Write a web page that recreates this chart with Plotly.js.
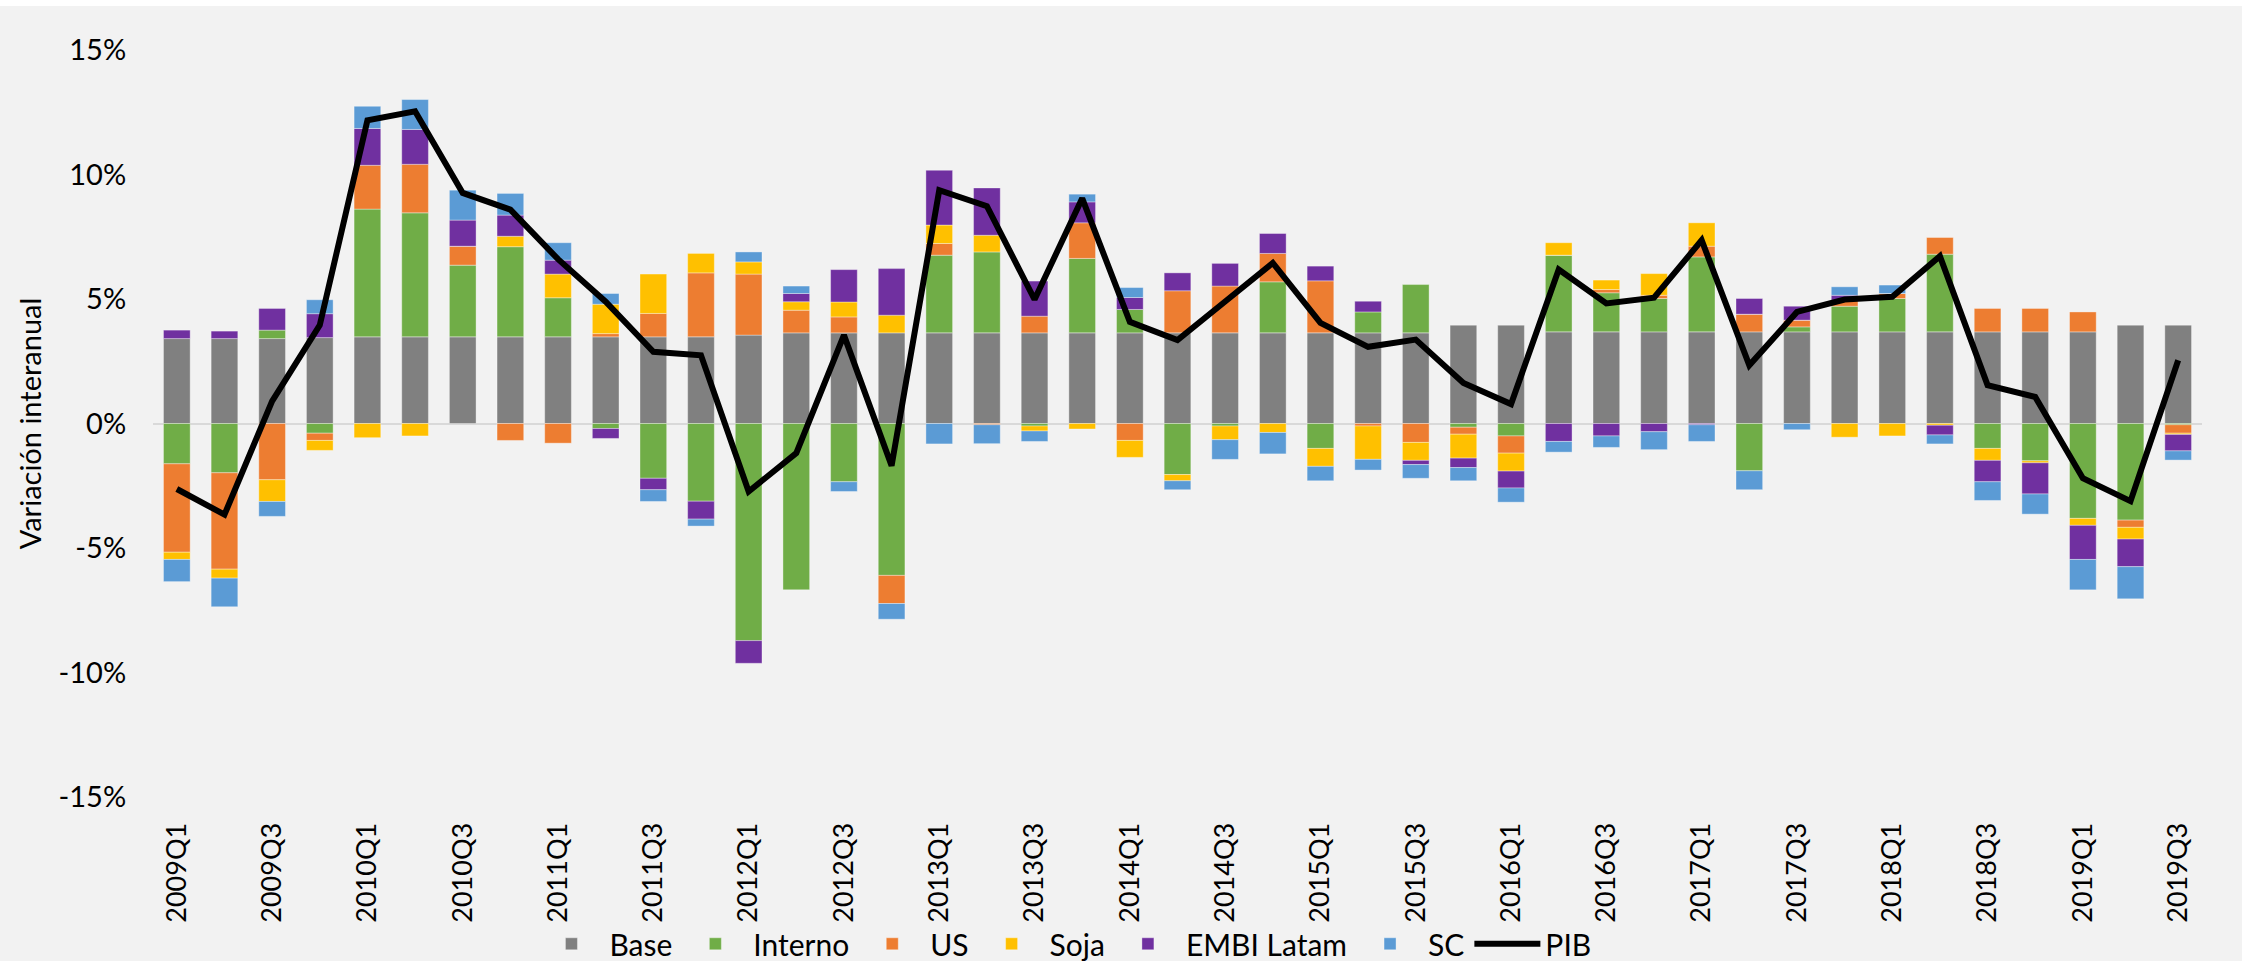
<!DOCTYPE html>
<html><head><meta charset="utf-8">
<script src="https://cdn.plot.ly/plotly-3.0.1.min.js"></script>
<style>html,body{margin:0;padding:0;background:#fff;} #chart{width:2242px;height:955px;margin-top:6px;}</style>
</head><body><div id="chart"></div>
<script>
const quarters = ['2009Q1','2009Q2','2009Q3','2009Q4','2010Q1','2010Q2','2010Q3','2010Q4',
  '2011Q1','2011Q2','2011Q3','2011Q4','2012Q1','2012Q2','2012Q3','2012Q4',
  '2013Q1','2013Q2','2013Q3','2013Q4','2014Q1','2014Q2','2014Q3','2014Q4',
  '2015Q1','2015Q2','2015Q3','2015Q4','2016Q1','2016Q2','2016Q3','2016Q4',
  '2017Q1','2017Q2','2017Q3','2017Q4','2018Q1','2018Q2','2018Q3','2018Q4',
  '2019Q1','2019Q2','2019Q3'];
const base = [3.41,3.41,3.41,3.45,3.48,3.48,3.48,3.48,3.48,3.48,3.48,3.48,3.55,3.64,3.64,3.64,
  3.64,3.64,3.64,3.64,3.64,3.64,3.64,3.64,3.64,3.64,3.64,3.95,3.95,3.68,3.68,3.68,
  3.68,3.68,3.68,3.68,3.68,3.68,3.68,3.68,3.68,3.95,3.95];
const interno = [-1.62,-1.98,0.34,-0.39,5.13,4.98,2.88,3.62,1.57,-0.2,-2.2,-3.12,-8.72,-6.68,-2.34,-6.1,
  3.12,3.25,-0.1,2.99,0.94,-2.05,-0.1,2.05,-1.0,0.84,1.94,-0.15,-0.5,3.08,1.57,1.34,
  3.01,-1.9,0.2,1.03,1.34,3.12,-1.0,-1.5,-3.81,-3.88,-0.05];
const us = [-3.55,-3.87,-2.26,-0.29,1.76,1.95,0.76,-0.68,-0.79,0.13,0.94,2.57,2.45,0.91,0.64,-1.13,
  0.47,-0.05,0.67,1.43,-0.68,1.69,1.88,1.14,2.09,-0.1,-0.76,-0.28,-0.69,0,0.13,0.13,
  0.43,0.71,0.27,0.24,0.2,0.67,0.94,0.94,0.8,-0.29,-0.34];
const soja = [-0.29,-0.36,-0.87,-0.4,-0.57,-0.5,0,0.42,0.95,1.18,1.58,0.78,0.49,0.34,0.6,0.71,
  0.74,0.67,-0.2,-0.22,-0.68,-0.25,-0.55,-0.36,-0.72,-1.34,-0.72,-0.96,-0.72,0.5,0.38,0.87,
  0.94,0,0,-0.55,-0.5,-0.07,-0.48,-0.08,-0.28,-0.47,-0.05];
const embi = [0.34,0.30,0.87,0.96,1.48,1.4,1.05,0.85,0.56,-0.4,-0.46,-0.72,-0.91,0.33,1.3,1.87,
  2.2,1.9,1.41,0.84,0.48,0.72,0.91,0.8,0.59,0.43,-0.17,-0.38,-0.68,-0.72,-0.5,-0.33,
  -0.05,0.63,0.56,0.2,0,-0.39,-0.86,-1.25,-1.37,-1.11,-0.66];
const sc = [-0.89,-1.15,-0.6,0.56,0.89,1.2,1.2,0.87,0.7,0.43,-0.47,-0.28,0.4,0.3,-0.39,-0.63,
  -0.82,-0.76,-0.42,0.31,0.4,-0.36,-0.79,-0.86,-0.58,-0.43,-0.55,-0.53,-0.57,-0.43,-0.46,-0.72,
  -0.67,-0.76,-0.25,0.34,0.34,-0.36,-0.75,-0.81,-1.22,-1.29,-0.37];
const pib = [-2.63,-3.66,0.9,3.95,12.18,12.54,9.26,8.59,6.6,4.89,2.88,2.74,-2.73,-1.19,3.55,-1.7,
  9.37,8.73,4.98,9.04,4.08,3.35,4.9,6.45,4.04,3.08,3.37,1.63,0.78,6.18,4.82,5.05,
  7.36,2.34,4.48,4.98,5.09,6.72,1.54,1.07,-2.2,-3.12,2.54];
const yTickVals = [-15,-10,-5,0,5,10,15];
const yTickText = ['-15%','-10%','-5%','0%','5%','10%','15%'];
const xTickVals = quarters.filter((q,i)=>i%2===0);

function barTrace(name, y, color){
  return {type:'bar', name:name, x:quarters, y:y,
    marker:{color:color, line:{color:'rgba(255,255,255,0.35)', width:1}},
    hoverinfo:'skip'};
}
const data = [
  barTrace('Base', base, '#808080'),
  barTrace('Interno', interno, '#70ad47'),
  barTrace('US', us, '#ed7d31'),
  barTrace('Soja', soja, '#ffc000'),
  barTrace('EMBI Latam', embi, '#7030a0'),
  barTrace('SC', sc, '#5b9bd5'),
  {type:'scatter', mode:'lines', name:'PIB', x:quarters, y:pib,
   line:{color:'#000000', width:6}, hoverinfo:'skip'}
];
const layout = {
  width:2242, height:955,
  margin:{l:153, r:40, t:44, b:164},
  paper_bgcolor:'#f2f2f2', plot_bgcolor:'#f2f2f2',
  barmode:'relative', bargap:0.44,
  font:{family:'Lato, "Open Sans", sans-serif', color:'#000', size:24},
  showlegend:true,
  xaxis:{type:'category', tickvals:xTickVals, ticktext:xTickVals, tickangle:-90,
    ticks:'outside', ticklen:14, tickcolor:'rgba(0,0,0,0)', tickfont:{size:27},
    showgrid:false, showline:false, zeroline:false, range:[-0.5,42.5], automargin:false},
  yaxis:{range:[-15,15], tickvals:yTickVals, ticktext:yTickText,
    ticks:'outside', ticklen:20, tickcolor:'rgba(0,0,0,0)', tickfont:{size:29},
    showgrid:false, showline:false, zeroline:true, zerolinecolor:'#d9d9d9', zerolinewidth:2,
    layer:'above traces', automargin:false,
    title:{text:'Variación interanual', font:{size:29}, standoff:8}},
  legend:{orientation:'h', xref:'container', yref:'container', x:0.475, xanchor:'center',
    y:0.018, yanchor:'middle', itemwidth:66,
    font:{size:30}, traceorder:'normal', bgcolor:'rgba(0,0,0,0)'}
};
Plotly.newPlot('chart', data, layout, {displayModeBar:false, staticPlot:true});
</script></body></html>
